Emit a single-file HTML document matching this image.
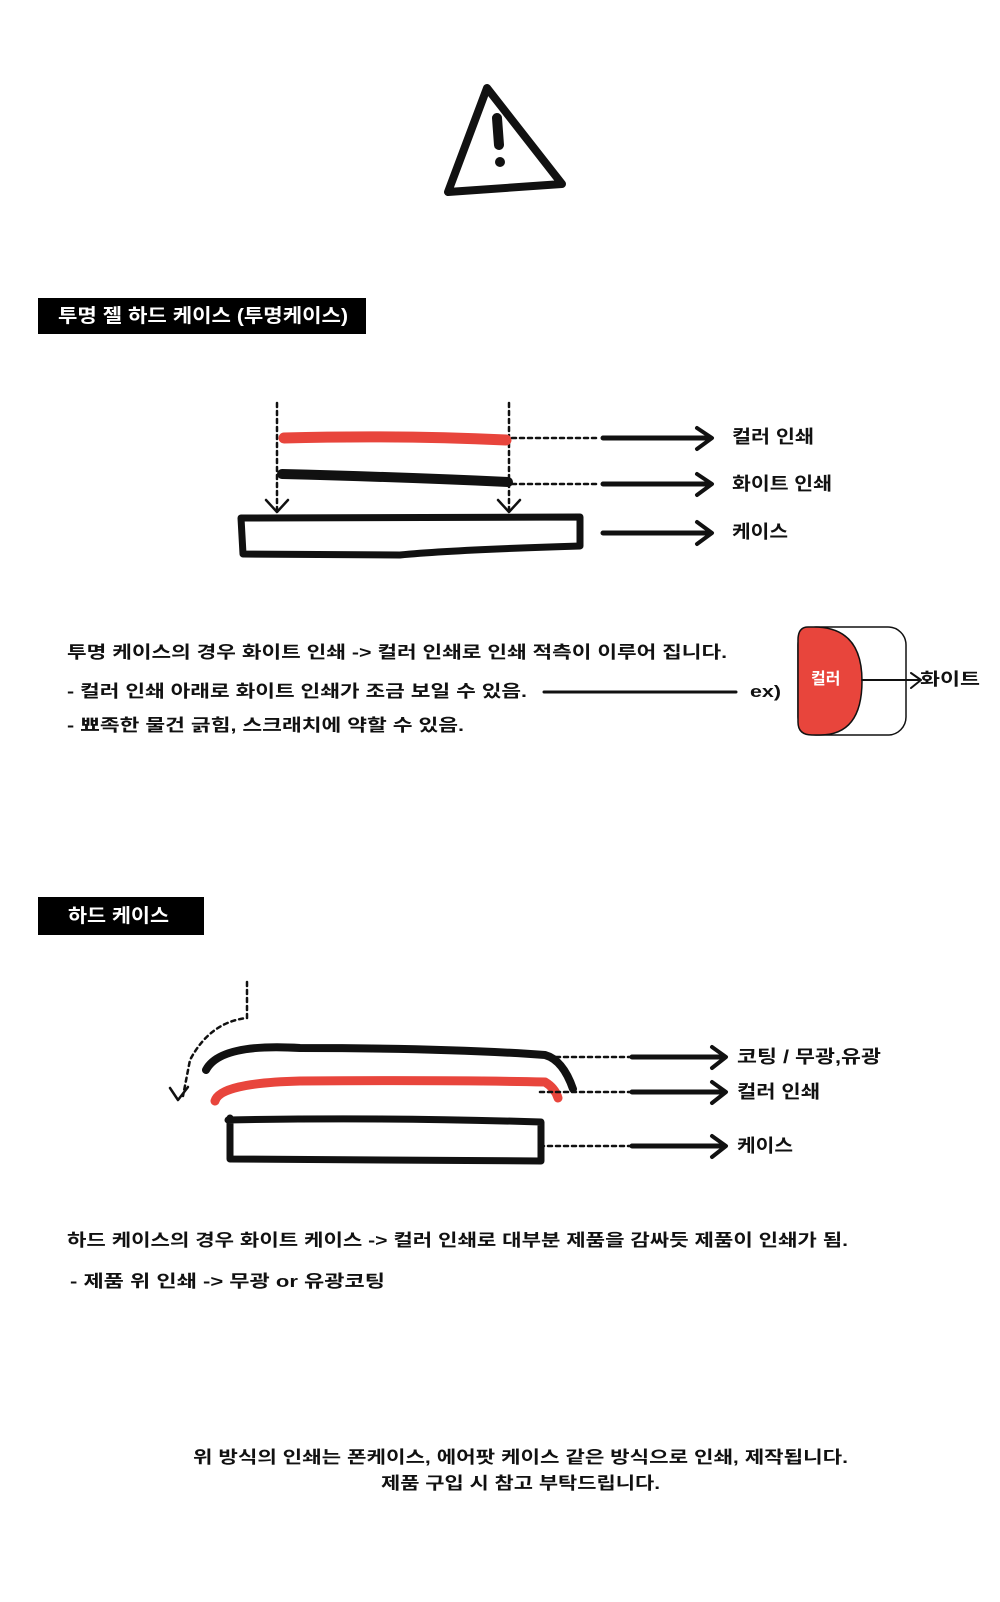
<!DOCTYPE html>
<html><head><meta charset="utf-8"><style>
html,body{margin:0;padding:0;background:#fff;}
svg{display:block;}
text{font-family:"Liberation Sans","Noto Sans CJK KR",sans-serif;font-weight:bold;fill:#111;}
</style></head><body>
<svg width="1000" height="1602" viewBox="0 0 1000 1602" xmlns="http://www.w3.org/2000/svg">
<g fill="none" stroke="#111" stroke-linecap="round" stroke-linejoin="round">
<path d="M487 88 L448 192 L562 184 Z" stroke-width="8"/>
<path d="M497 118 L499 145" stroke-width="10"/>
<circle cx="500" cy="162" r="5" fill="#111" stroke="none"/>
<path d="M277 403 V512 M509 403 V512" stroke-width="2.5" stroke-dasharray="4 4"/>
<path d="M266 500 L277 512 L288 500 M498 500 L509 512 L520 500" stroke-width="2.5"/>
<path d="M284 438 Q400 435 506 440" stroke="#e8453c" stroke-width="11"/>
<path d="M282 474 Q400 477 508 482" stroke-width="10"/>
<path d="M241 518 L580 517 L580 546 Q450 550 400 555 L243 554 Z" stroke-width="7"/>
<path d="M512 438 H600 M512 484 H600" stroke-width="2.5" stroke-dasharray="4 4"/>
<path d="M603 438 H710 M603 484 H710 M603 533 H710" stroke-width="5"/>
<path d="M697 428 L712 438 L697 449 M697 474 L712 484 L697 495 M697 522 L712 533 L697 544" stroke-width="4"/>
<path d="M544 692 H736" stroke-width="3"/>
<rect x="798" y="627" width="108" height="108" rx="18" stroke-width="1.5"/>
<path d="M814 627 H808 Q798 627 798 640 V722 Q798 735 812 735 H820 Q862 735 862 681 Q862 627 814 627 Z" fill="#e8453c" stroke="#111" stroke-width="1.5"/>
<path d="M862 680 H920 M911 673 L921 680 L911 688" stroke-width="2"/>
<path d="M247 982 V1018 Q210 1022 190 1060 L183 1096" stroke-width="2.5" stroke-dasharray="4 4"/>
<path d="M170 1088 L178 1100 L188 1087" stroke-width="2.5"/>
<path d="M206 1070 Q220 1043 300 1048 Q450 1048 545 1055 Q563 1060 573 1089" stroke-width="8"/>
<path d="M215 1101 Q220 1083 300 1081 Q450 1080 545 1082 Q555 1088 558 1098" stroke="#e8453c" stroke-width="9"/>
<path d="M230 1118 V1159 M228 1120 Q380 1117 541 1122 V1161 Q380 1160 230 1159" stroke-width="7"/>
<path d="M540 1057 H630 M540 1092 H630 M540 1146 H630" stroke-width="2.5" stroke-dasharray="4 4"/>
<path d="M632 1057 H722 M632 1092 H722 M632 1146 H722" stroke-width="5"/>
<path d="M712 1047 L726 1057 L712 1068 M712 1082 L726 1092 L712 1103 M712 1136 L726 1146 L712 1157" stroke-width="4"/>
</g>
<rect x="38" y="298" width="328" height="36" fill="#000"/>
<text x="58" y="322" font-size="19" textLength="290" lengthAdjust="spacingAndGlyphs" style="fill:#fff">투명 젤 하드 케이스 (투명케이스)</text>
<text x="732" y="443" font-size="18" textLength="82" lengthAdjust="spacingAndGlyphs">컬러 인쇄</text>
<text x="732" y="490" font-size="18" textLength="100" lengthAdjust="spacingAndGlyphs">화이트 인쇄</text>
<text x="732" y="538" font-size="18" textLength="56" lengthAdjust="spacingAndGlyphs">케이스</text>
<text x="67" y="658" font-size="17" textLength="660" lengthAdjust="spacingAndGlyphs">투명 케이스의 경우  화이트 인쇄 -&gt; 컬러 인쇄로 인쇄 적측이 이루어 집니다.</text>
<text x="67" y="697" font-size="17" textLength="460" lengthAdjust="spacingAndGlyphs">- 컬러 인쇄 아래로 화이트 인쇄가 조금 보일 수 있음.</text>
<text x="67" y="731" font-size="17" textLength="397" lengthAdjust="spacingAndGlyphs">- 뾰족한 물건 긁힘, 스크래치에 약할 수 있음.</text>
<text x="750" y="697" font-size="17" textLength="31" lengthAdjust="spacingAndGlyphs">ex)</text>
<text x="811" y="684" font-size="16" style="fill:#fff">컬러</text>
<text x="920" y="685" font-size="17" textLength="60" lengthAdjust="spacingAndGlyphs">화이트</text>
<rect x="38" y="897" width="166" height="38" fill="#000"/>
<text x="68" y="922" font-size="19" textLength="101" lengthAdjust="spacingAndGlyphs" style="fill:#fff">하드 케이스</text>
<text x="737" y="1063" font-size="18" textLength="144" lengthAdjust="spacingAndGlyphs">코팅 / 무광,유광</text>
<text x="737" y="1098" font-size="18" textLength="83" lengthAdjust="spacingAndGlyphs">컬러 인쇄</text>
<text x="737" y="1152" font-size="18" textLength="56" lengthAdjust="spacingAndGlyphs">케이스</text>
<text x="67" y="1246" font-size="17" textLength="781" lengthAdjust="spacingAndGlyphs">하드 케이스의 경우 화이트 케이스 -&gt; 컬러 인쇄로 대부분 제품을 감싸듯 제품이 인쇄가 됨.</text>
<text x="70" y="1287" font-size="17" textLength="315" lengthAdjust="spacingAndGlyphs">- 제품 위 인쇄 -&gt; 무광 or 유광코팅</text>
<text x="193" y="1463" font-size="17" textLength="655" lengthAdjust="spacingAndGlyphs">위 방식의 인쇄는 폰케이스, 에어팟  케이스 같은 방식으로 인쇄, 제작됩니다.</text>
<text x="381" y="1489" font-size="17" textLength="279" lengthAdjust="spacingAndGlyphs">제품 구입 시 참고 부탁드립니다.</text>
</svg>
</body></html>
